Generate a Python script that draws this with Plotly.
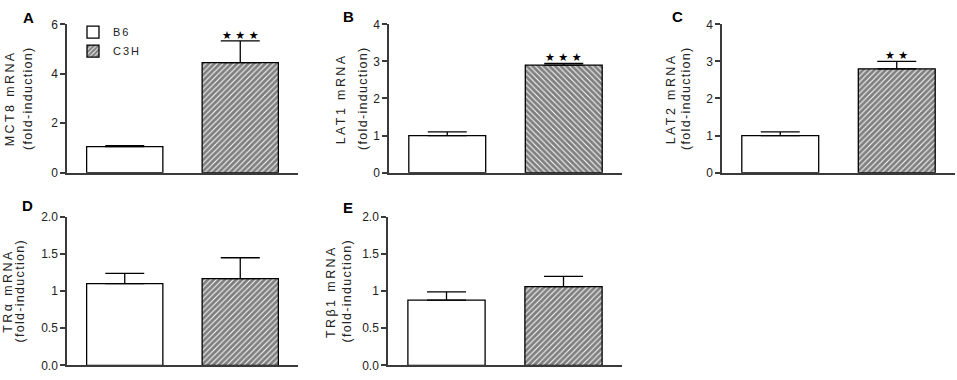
import plotly.graph_objects as go

W, H = 957, 380

# ---------------- data ----------------
panel_letters = ["A", "B", "C", "D", "E"]
y_title_main = ["MCT8 mRNA", "LAT1 mRNA", "LAT2 mRNA", "TRα mRNA", "TRβ1 mRNA"]
y_title_sub = "(fold-induction)"
groups = ["B6", "C3H"]

b6_mean = [1.05, 1.00, 1.00, 1.10, 0.88]
b6_err = [0.04, 0.10, 0.10, 0.14, 0.11]
c3h_mean = [4.45, 2.90, 2.80, 1.17, 1.06]
c3h_err = [0.88, 0.05, 0.20, 0.28, 0.14]
significance = ["***", "***", "**", "", ""]

y_max = [6, 4, 4, 2, 2]
tick_vals = [
    [0, 2, 4, 6],
    [0, 1, 2, 3, 4],
    [0, 1, 2, 3, 4],
    [0, 0.5, 1, 1.5, 2],
    [0, 0.5, 1, 1.5, 2],
]
tick_text = [
    ["0", "2", "4", "6"],
    ["0", "1", "2", "3", "4"],
    ["0", "1", "2", "3", "4"],
    ["0.0", "0.5", "1", "1.5", "2.0"],
    ["0.0", "0.5", "1", "1.5", "2.0"],
]
hatch = ["/", "\\", "/", "/", "/"]

# ---------------- layout (pixels) ----------------
x_dom_px = [(67, 298), (389, 622), (722, 955), (67, 298), (388, 622)]
y_dom_px = [(18, 172), (18, 172), (18, 172), (218, 372), (218, 372)]
letter_pos = [(28, 11), (348, 10), (677, 10), (27, 206), (348, 208)]
title_x = [(9, 27), (340, 362), (670, 685), (8, 20), (331, 347)]

def px(x):
    return x / W

def py(y):
    return 1 - y / H

TXT = "#222222"
AX = "#3a3a3a"
FONT = "Liberation Sans, Arial, sans-serif"

fig = go.Figure()
layout = dict(
    width=W, height=H,
    margin=dict(l=0, r=0, t=0, b=0),
    paper_bgcolor="white", plot_bgcolor="white",
    font=dict(family=FONT, size=12, color=TXT),
    barmode="overlay",
    showlegend=True,
    legend=dict(x=px(73), y=py(11), xanchor="left", yanchor="top",
                bgcolor="rgba(0,0,0,0)", font=dict(size=11, color=TXT),
                itemwidth=30, tracegroupgap=0),
)
annotations = []

for i in range(5):
    sfx = "" if i == 0 else str(i + 1)
    xa, ya = "x" + sfx, "y" + sfx
    fig.add_trace(go.Bar(
        x=[0], y=[b6_mean[i]], width=0.66, name=groups[0],
        xaxis=xa, yaxis=ya, showlegend=(i == 0), legendgroup="b6",
        marker=dict(color="white", line=dict(color="black", width=1.3)),
        error_y=dict(type="data", symmetric=False, array=[b6_err[i]], arrayminus=[0],
                     color="black", thickness=1.3, width=19.5),
    ))
    fig.add_trace(go.Bar(
        x=[1], y=[c3h_mean[i]], width=0.66, name=groups[1],
        xaxis=xa, yaxis=ya, showlegend=(i == 0), legendgroup="c3h",
        marker=dict(color="white", line=dict(color="black", width=1.3),
                    pattern=dict(shape=hatch[i], fgcolor="black", bgcolor="white",
                                 size=4, solidity=0.75)),
        error_y=dict(type="data", symmetric=False, array=[c3h_err[i]], arrayminus=[0],
                     color="black", thickness=1.3, width=19.5),
    ))
    x0, x1 = x_dom_px[i]
    y0, y1 = y_dom_px[i]
    layout["xaxis" + sfx] = dict(
        domain=[px(x0), px(x1)], range=[-0.5, 1.5], anchor=ya,
        showline=True, linecolor=AX, linewidth=1.5, showticklabels=False,
        ticks="", showgrid=False, zeroline=False, fixedrange=True,
    )
    layout["yaxis" + sfx] = dict(
        domain=[py(y1), py(y0)], range=[0, y_max[i]], anchor=xa,
        showline=True, linecolor=AX, linewidth=1.5, ticks="outside", ticklen=5,
        tickwidth=1.5, tickcolor=AX, tickvals=tick_vals[i], ticktext=tick_text[i],
        tickfont=dict(size=12, color=TXT), showgrid=False, zeroline=False,
        fixedrange=True,
    )
    lx, ly = letter_pos[i]
    annotations.append(dict(
        text="<b>" + panel_letters[i] + "</b>", x=px(lx), y=py(ly), xref="paper", yref="paper",
        xanchor="center", yanchor="middle", showarrow=False,
        font=dict(size=15, color="black", family=FONT),
    ))
    ycen = py((y0 + y1) / 2)
    for txt, tx in zip([y_title_main[i], y_title_sub], title_x[i]):
        annotations.append(dict(
            text=txt, x=px(tx), y=ycen, xref="paper", yref="paper",
            xanchor="center", yanchor="middle", textangle=-90, showarrow=False,
            font=dict(size=12.5, color=TXT, family=FONT),
        ))
    if significance[i]:
        annotations.append(dict(
            text=" ".join("★" * len(significance[i])), x=1, y=c3h_mean[i] + c3h_err[i],
            xref=xa, yref=ya, xanchor="center", yanchor="bottom", yshift=-3,
            showarrow=False, font=dict(size=11, color="black", family="DejaVu Sans"),
        ))

layout["annotations"] = annotations
fig.update_layout(**layout)

# page tweaks: no body margin; wide letter spacing like the original figure's typeface
post = """
document.body.style.margin = '0';
document.body.style.overflow = 'hidden';
var mains = %s;
document.querySelectorAll('text').forEach(function(t){
  var s = t.textContent;
  if (mains.indexOf(s) >= 0) { t.style.letterSpacing = '2.4px'; }
  else if (s === '(fold-induction)') { t.style.letterSpacing = '1.3px'; }
  else if (s === 'B6' || s === 'C3H') { t.style.letterSpacing = '2px'; }
});
""" % (str(y_title_main).replace("'", '"'))

fig.write_html("out.html", post_script=post, config={"displayModeBar": False})
